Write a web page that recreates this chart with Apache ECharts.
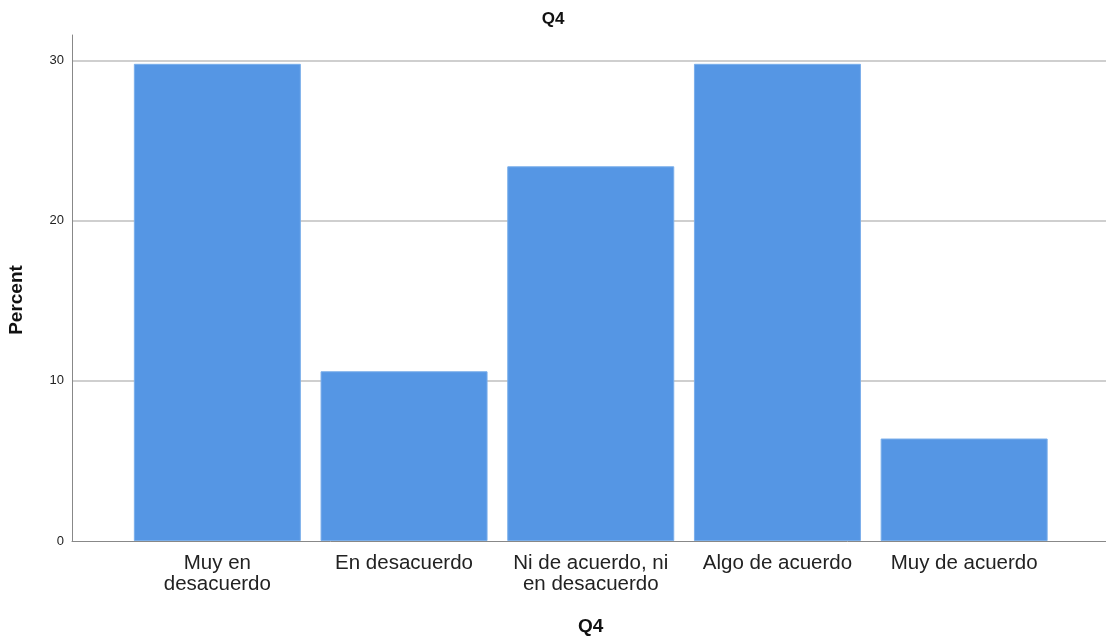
<!DOCTYPE html>
<html>
<head>
<meta charset="utf-8">
<script src="https://cdn.jsdelivr.net/npm/echarts@6/dist/echarts.min.js"></script>
<style>html,body{margin:0;padding:0;background:#fff}#c{width:1106px;height:639px}</style>
</head>
<body>
<div id="c"></div>
<script>
var categories = ['Muy en\ndesacuerdo', 'En desacuerdo', 'Ni de acuerdo, ni\nen desacuerdo', 'Algo de acuerdo', 'Muy de acuerdo'];
var percentValues = [29.8, 10.6, 23.4, 29.8, 6.4];
var yTicks = [0, 10, 20, 30];

var FONT = '"Liberation Sans", Arial, sans-serif';
var yMax = 31.6;
var chart = echarts.init(document.getElementById('c'), null, {renderer: 'canvas'});
chart.setOption({
  animation: false,
  backgroundColor: '#ffffff',
  title: {
    text: 'Q4', left: 'center', top: 6,
    textStyle: {fontFamily: FONT, fontSize: 17, fontWeight: 'bold', color: '#111'}
  },
  grid: [
    {left: 72, right: 0, top: 35, bottom: 98, outerBoundsMode: 'none', containLabel: false},
    {left: 124, width: 933.5, top: 35, bottom: 98, outerBoundsMode: 'none', containLabel: false}
  ],
  xAxis: [
    {gridIndex: 0, type: 'value', min: 0, max: 1,
     axisLine: {show: true, lineStyle: {color: '#888', width: 1}},
     axisTick: {show: false}, axisLabel: {show: false}, splitLine: {show: false}},
    {gridIndex: 1, type: 'category', data: categories,
     axisLine: {show: false}, axisTick: {show: false},
     axisLabel: {margin: 12, fontFamily: FONT, fontSize: 20.5, lineHeight: 21, color: '#222', interval: 0},
     name: 'Q4', nameLocation: 'middle', nameGap: 76,
     nameTextStyle: {fontFamily: FONT, fontSize: 19, fontWeight: 'bold', color: '#111'}}
  ],
  yAxis: [
    {gridIndex: 0, type: 'value', min: 0, max: yMax, interval: 10,
     axisLine: {show: true, lineStyle: {color: '#888', width: 1}},
     axisTick: {show: false},
     axisLabel: {margin: 8, fontFamily: FONT, fontSize: 13, color: '#222', showMaxLabel: false,
       formatter: function (v) { return yTicks.indexOf(v) >= 0 ? String(v) : ''; }},
     splitLine: {show: true, showMinLine: false, showMaxLine: false, lineStyle: {color: '#cfcfcf', width: 2}},
     name: 'Percent', nameLocation: 'middle', nameGap: 46, nameRotate: 90,
     nameTextStyle: {fontFamily: FONT, fontSize: 19, fontWeight: 'bold', color: '#111', padding: [0, 24, 0, 0]}},
    {gridIndex: 1, type: 'value', min: 0, max: yMax, show: false, splitLine: {show: false}}
  ],
  series: [{
    type: 'bar', xAxisIndex: 1, yAxisIndex: 1,
    data: percentValues, barWidth: 167,
    itemStyle: {color: '#5596E4', borderColor: '#7aaeea', borderWidth: 1}
  }]
});
</script>
</body>
</html>
